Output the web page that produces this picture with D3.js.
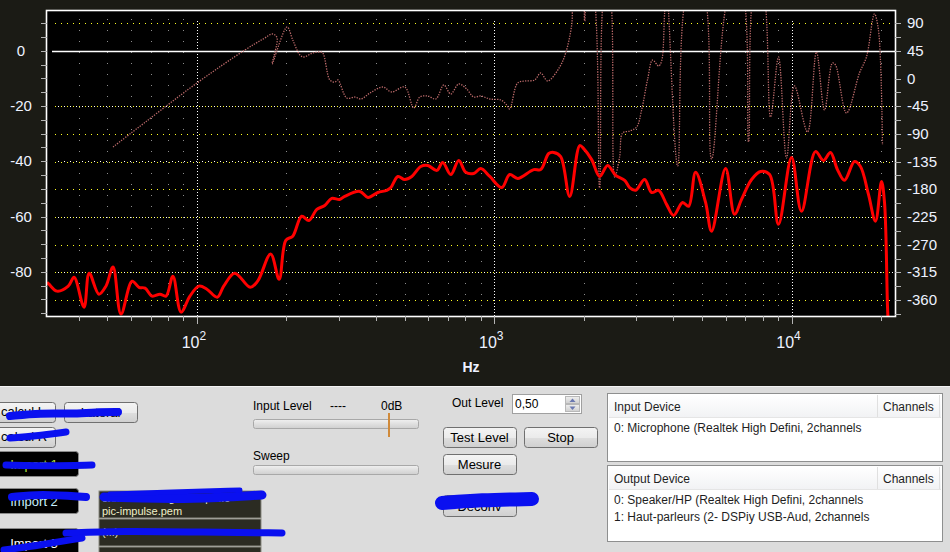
<!DOCTYPE html>
<html>
<head>
<meta charset="utf-8">
<script src="https://cdn.jsdelivr.net/npm/d3@7"></script>
<style>
body{margin:0;background:#1b1b15;}
svg{display:block;}
text{font-family:"Liberation Sans",Arial,sans-serif;}
</style>
</head>
<body>
<script>
// magnitude response (Hz, dB)
var magFreq = [31.3,31.8,33.8,36.9,38.6,41.7,43.4,46.8,49.4,52.2,55.5,60.5,63.8,66.9,70.6,75.1,78.7,83.0,88.4,94.7,
  101.6,108,117,123,134,151,160,177,189,199,210,225,238,253,269,284,302,314,353,376,406,435,449,474,500,528,566,598,641,671,
  714,760,802,853,901,966,1060,1127,1199,1358,1433,1525,1585,1673,1794,1939,1999,2127,2262,2407,2561,2746,2854,2989,3206,
  3383,3572,3799,4011,4301,4506,4757,5140,5384,6000,6433,6790,7340,7870,8440,9040,10000,10800,12040,12810,13520,14270,
  15070,16290,17060,18150,19160,20080,20550,21030,21190];
var magDb = [-83.8,-84.5,-87.0,-85.2,-82.0,-92.8,-80.5,-88.1,-85.2,-78.3,-95.3,-83.4,-85.6,-85.9,-88.8,-88.1,-88.8,-81.6,-94.6,-88.8,
  -85.2,-86.3,-89.2,-85.2,-80.5,-85.6,-83.4,-73.6,-82.7,-68.6,-67.1,-59.9,-61.4,-57.4,-56.0,-53.4,-53.8,-52.7,-50.9,-53.1,-51.3,-50.5,-49.5,-45.5,-46.6,-45.5,-41.9,-41.5,-43.3,-40.4,
  -44.8,-39.7,-44.0,-44.4,-42.6,-45.5,-49.5,-44.8,-46.2,-43.0,-43.0,-37.2,-36.8,-38.3,-52.7,-34.3,-35.4,-39.4,-45.5,-41.5,-45.1,-46.9,-49.5,-50.5,-46.6,
  -51.3,-50.5,-55.6,-59.6,-54.9,-56.3,-44.0,-54.9,-65.3,-42.6,-59.2,-53.8,-46.6,-43.7,-44.8,-62.8,-38.6,-58.1,-36.5,-39.7,-36.8,-43.0,
  -46.9,-40.1,-41.9,-52.0,-61.7,-47.3,-54.9,-92.4,-100.7];

// phase response (Hz, degrees)
var phaseFreq = [52.2,59.5,100,145,167,180,186,179,201,210,222,229,245,259,265,280,291,298,319,340,356,382,422,452,500,536,562,598,636,677,
  714,760,808,853,901,966,1052,1102,1127,1199,1276,1368,1433,1513,1660,1739,1822,1865,1969,2015,2062,2127,2262,2370,2426,2541,2641,2703,2854,3013,
  3132,3281,3410,3572,3656,3742,3799,4139,4541,4983,5384,6285,6740,7170,7570,7930,8500,9040,9620,10230,11320,12130,12910,13730,14060,15310,
  16930,17870,19010,19610,20230];
var phaseDeg = [-111.2,-90.0,-7.1,46.6,64.5,72.6,66.1,23.8,84.0,62.8,38.4,35.2,41.7,43.3,41.7,-2.2,-5.5,-2.2,-31.5,-29.9,-33.1,-23.4,-13.6,-21.7,-13.6,-47.7,-29.9,-28.2,-33.1,-10.3,
  -25.0,-8.7,-16.9,-29.9,-28.2,-33.1,-34.7,-42.9,-49.4,-7.1,-3.8,-2.2,9.2,-3.8,18.9,41.7,87.2,150,150,93.7,150,150,-177.9,150,150,-160,-127.4,-88.4,-85.2,-78.7,
  -51.0,-1.0,30.3,20.6,28.7,106.7,150,-142.1,150,150,-130.7,150,150,-103.0,150,150,-62.4,35.2,-129.1,-12.0,-86.8,43.3,-51.0,25.4,22.2,-55.9,
  9.2,35.2,105.1,79.1,-107.9];

var dbLabels = [0,-20,-40,-60,-80];
var phaseLabels = [90,45,0,-45,-90,-135,-180,-225,-270,-315,-360];
var decades = [100,1000,10000];
var decadeExp = ["2","3","4"];

var inputDevices = ["0: Microphone (Realtek High Defini, 2channels"];
var outputDevices = ["0: Speaker/HP (Realtek High Defini, 2channels","1: Haut-parleurs (2- DSPiy USB-Aud, 2channels"];

var width = 950, height = 552;
var svg = d3.select("body").append("svg").attr("width", width).attr("height", height);

var L = 47, T = 11, R = 895, B = 316;
var x = d3.scaleLog().domain([31.3, 22290]).range([L, R]);
var yDb = d3.scaleLinear().domain([-96, 14.4]).range([B, T]);
var yPh = d3.scaleLinear().domain([-386, 110]).range([B, T]);

svg.append("rect").attr("width", width).attr("height", 386).attr("fill", "#1b1b15");
svg.append("rect").attr("x", L).attr("y", T).attr("width", R - L).attr("height", B - T).attr("fill", "#000");

svg.append("clipPath").attr("id", "clip").append("rect")
  .attr("x", L).attr("y", T).attr("width", R - L).attr("height", B - T);

var grid = svg.append("g");
// vertical grid
var minors = x.ticks().filter(function(d){ return decades.indexOf(d) < 0; });
grid.selectAll(".vmin").data(minors).enter().append("line")
  .attr("x1", function(d){ return Math.round(x(d)) + 0.5; }).attr("x2", function(d){ return Math.round(x(d)) + 0.5; })
  .attr("y1", T + 8).attr("y2", B)
  .attr("stroke", "#8c8c8c").attr("stroke-dasharray", "1,10");
grid.selectAll(".vmaj").data(decades).enter().append("line")
  .attr("x1", function(d){ return Math.round(x(d)) + 0.5; }).attr("x2", function(d){ return Math.round(x(d)) + 0.5; })
  .attr("y1", T + 10).attr("y2", B)
  .attr("stroke", "#fff").attr("stroke-dasharray", "1,2");
// phase grid (yellow dotted)
grid.selectAll(".ph").data(phaseLabels.filter(function(d){ return d != 0 && d != 45; })).enter().append("line")
  .attr("x1", L + 8).attr("x2", R)
  .attr("y1", function(d){ return Math.round(yPh(d)) + 0.5; }).attr("y2", function(d){ return Math.round(yPh(d)) + 0.5; })
  .attr("stroke", "#ffff20").attr("stroke-dasharray", "1,5");
// dB grid
grid.selectAll(".db").data(dbLabels.filter(function(d){ return d != 0; })).enter().append("line")
  .attr("x1", L + 8).attr("x2", R)
  .attr("y1", function(d){ return Math.round(yDb(d)) + 0.5; }).attr("y2", function(d){ return Math.round(yDb(d)) + 0.5; })
  .attr("stroke", "#ffffff").attr("stroke-dasharray", "1,5").attr("stroke-dashoffset", 3);
grid.append("line").attr("x1", L + 5).attr("x2", R)
  .attr("y1", Math.round(yDb(0)) + 0.5).attr("y2", Math.round(yDb(0)) + 0.5)
  .attr("stroke", "#fff").attr("stroke-width", 1.5);

var curves = svg.append("g").attr("clip-path", "url(#clip)");
var phaseLine = d3.line().x(function(d){ return x(d[0]); }).y(function(d){ return yPh(d[1]); })
  .curve(d3.curveCatmullRom.alpha(0.5));
curves.append("path").datum(d3.zip(phaseFreq, phaseDeg)).attr("d", phaseLine)
  .attr("fill", "none").attr("stroke", "#bc6a6a").attr("stroke-width", 1.3).attr("stroke-dasharray", "1.3,1.3");
var magLine = d3.line().x(function(d){ return x(d[0]); }).y(function(d){ return yDb(d[1]); })
  .curve(d3.curveCatmullRom.alpha(0.5));
curves.append("path").datum(d3.zip(magFreq, magDb)).attr("d", magLine)
  .attr("fill", "none").attr("stroke", "#ff0000").attr("stroke-width", 3).attr("stroke-linejoin", "round");

// frame
svg.append("rect").attr("x", L - 0.5).attr("y", T - 0.5).attr("width", R - L + 1).attr("height", B - T + 1)
  .attr("fill", "none").attr("stroke", "#fff").attr("stroke-width", 1.6);

// axis ticks
var ax = svg.append("g").attr("stroke", "#b4b4b4");
ax.selectAll(".lt").data(d3.range(-95, 15, 5)).enter().append("line")
  .attr("x1", L - 6).attr("x2", L)
  .attr("y1", function(d){ return Math.round(yDb(d)) + 0.5; }).attr("y2", function(d){ return Math.round(yDb(d)) + 0.5; });
ax.selectAll(".rt").data(d3.range(-382.5, 110, 22.5)).enter().append("line")
  .attr("x1", R).attr("x2", R + 6)
  .attr("y1", function(d){ return Math.round(yPh(d)) + 0.5; }).attr("y2", function(d){ return Math.round(yPh(d)) + 0.5; });
ax.selectAll(".bt").data(x.ticks()).enter().append("line")
  .attr("x1", function(d){ return Math.round(x(d)) + 0.5; }).attr("x2", function(d){ return Math.round(x(d)) + 0.5; })
  .attr("y1", B).attr("y2", function(d){ return decades.indexOf(d) >= 0 ? B + 8 : B + 5; });

var lab = "#eef2ff";
svg.selectAll(".dbl").data(dbLabels).enter().append("text")
  .attr("x", 21).attr("y", function(d){ return yDb(d) + 5; })
  .attr("text-anchor", "middle").attr("font-size", 15).attr("fill", lab)
  .text(function(d){ return d; });
svg.selectAll(".phl").data(phaseLabels).enter().append("text")
  .attr("x", 907).attr("y", function(d){ return yPh(d) + 5; })
  .attr("font-size", 15).attr("fill", lab)
  .text(function(d){ return d; });
var xl = svg.selectAll(".xl").data(decades).enter().append("text")
  .attr("x", function(d){ return x(d) - 3; }).attr("y", 348)
  .attr("text-anchor", "middle").attr("font-size", 16).attr("fill", lab);
xl.append("tspan").text("10");
xl.append("tspan").attr("font-size", 12).attr("dy", -8).text(function(d, i){ return decadeExp[i]; });
svg.append("text").attr("x", 471).attr("y", 372).attr("text-anchor", "middle")
  .attr("font-size", 14).attr("font-weight", "bold").attr("fill", lab).text("Hz");

// control panel
var p = svg.append("g");
p.append("rect").attr("y", 386).attr("width", width).attr("height", height - 386).attr("fill", "#dcdcdc");
p.append("line").attr("x1", 0).attr("x2", width).attr("y1", 386.5).attr("y2", 386.5).attr("stroke", "#f4f4f4");

var defs = svg.append("defs");
var g1 = defs.append("linearGradient").attr("id", "btn").attr("x1", 0).attr("x2", 0).attr("y1", 0).attr("y2", 1);
g1.append("stop").attr("offset", "0%").attr("stop-color", "#f4f4f4");
g1.append("stop").attr("offset", "50%").attr("stop-color", "#ebebeb");
g1.append("stop").attr("offset", "55%").attr("stop-color", "#dddddd");
g1.append("stop").attr("offset", "100%").attr("stop-color", "#cfcfcf");
var g2 = defs.append("linearGradient").attr("id", "bar").attr("x1", 0).attr("x2", 0).attr("y1", 0).attr("y2", 1);
g2.append("stop").attr("offset", "0%").attr("stop-color", "#f0f0f0");
g2.append("stop").attr("offset", "100%").attr("stop-color", "#cfcfcf");
var g3 = defs.append("linearGradient").attr("id", "hdr").attr("x1", 0).attr("x2", 0).attr("y1", 0).attr("y2", 1);
g3.append("stop").attr("offset", "0%").attr("stop-color", "#ffffff");
g3.append("stop").attr("offset", "100%").attr("stop-color", "#f1f2f4");

function button(x0, y0, w, h, label, dark, col) {
  p.append("rect").attr("x", x0 + 0.5).attr("y", y0 + 0.5).attr("width", w).attr("height", h).attr("rx", 3)
    .attr("fill", dark ? "#000" : "url(#btn)").attr("stroke", dark ? "#8a8a8a" : "#707070");
  if (label) p.append("text").attr("x", x0 + w / 2).attr("y", y0 + h / 2 + 5).attr("text-anchor", "middle")
    .attr("font-size", 13).attr("fill", col || "#000").text(label);
}
button(-10, 402, 65, 20, null);
p.append("text").attr("x", 1).attr("y", 416).attr("font-size", 13).text("calcul L");
button(64, 402, 73, 20, "Lateral");
button(-10, 427, 65, 20, null);
p.append("text").attr("x", 1).attr("y", 441).attr("font-size", 13).text("calcul R");
button(-10, 451, 88, 25, "Import 1", true, "#b4e03c");
button(-10, 488, 88, 25, "Import 2", true, "#c8f0ff");
button(-10, 528, 88, 30, "Import 3", true, "#ffffff");

p.append("rect").attr("x", 99).attr("y", 491).attr("width", 162).attr("height", 27).attr("fill", "#2b2b22").attr("stroke", "#8a8a80");
p.append("text").attr("x", 102).attr("y", 502).attr("font-size", 11).attr("fill", "#f0f0c8").text("c:\\...\\DSPdesigner\\dsp-2.0");
p.append("text").attr("x", 102).attr("y", 515).attr("font-size", 11).attr("fill", "#f0f0c8").text("pic-impulse.pem");
p.append("rect").attr("x", 99).attr("y", 519).attr("width", 162).attr("height", 27).attr("fill", "#2b2b22").attr("stroke", "#8a8a80");
p.append("text").attr("x", 102).attr("y", 536).attr("font-size", 11).attr("fill", "#f0f0c8").text("(...)");
p.append("rect").attr("x", 99).attr("y", 547).attr("width", 162).attr("height", 10).attr("fill", "#2b2b22").attr("stroke", "#8a8a80");

p.append("text").attr("x", 253).attr("y", 410).attr("font-size", 12).text("Input Level");
p.append("text").attr("x", 330).attr("y", 410).attr("font-size", 12).text("----");
p.append("text").attr("x", 381).attr("y", 410).attr("font-size", 12).text("0dB");
p.append("rect").attr("x", 253.5).attr("y", 419.5).attr("width", 165).attr("height", 9).attr("rx", 2)
  .attr("fill", "url(#bar)").attr("stroke", "#a8a8a8");
p.append("line").attr("x1", 389).attr("x2", 389).attr("y1", 413).attr("y2", 437).attr("stroke", "#d08a3a").attr("stroke-width", 2);
p.append("text").attr("x", 253).attr("y", 460).attr("font-size", 12).text("Sweep");
p.append("rect").attr("x", 253.5).attr("y", 465.5).attr("width", 165).attr("height", 9).attr("rx", 2)
  .attr("fill", "url(#bar)").attr("stroke", "#a8a8a8");

p.append("text").attr("x", 452).attr("y", 407).attr("font-size", 12).text("Out Level");
p.append("rect").attr("x", 512.5).attr("y", 394.5).attr("width", 69).attr("height", 19).attr("fill", "#fff").attr("stroke", "#a0a0a0");
p.append("text").attr("x", 515).attr("y", 408).attr("font-size", 12).text("0,50");
p.append("rect").attr("x", 565.5).attr("y", 396.5).attr("width", 14).attr("height", 7).attr("fill", "url(#bar)").attr("stroke", "#b8b8b8");
p.append("rect").attr("x", 565.5).attr("y", 404.5).attr("width", 14).attr("height", 7).attr("fill", "url(#bar)").attr("stroke", "#b8b8b8");
p.append("path").attr("d", "M569.5,402 L572.5,398.5 L575.5,402 Z").attr("fill", "#6a78b0");
p.append("path").attr("d", "M569.5,406.5 L572.5,410 L575.5,406.5 Z").attr("fill", "#6a78b0");

button(443, 427, 73, 20, "Test Level");
button(524, 427, 73, 20, "Stop");
button(443, 454, 73, 20, "Mesure");
button(443, 495, 73, 21, "Deconv");

function listView(y0, h, title, items) {
  p.append("rect").attr("x", 607.5).attr("y", y0 + 0.5).attr("width", 335).attr("height", h).attr("fill", "#fff").attr("stroke", "#8e8f8f");
  p.append("rect").attr("x", 609).attr("y", y0 + 2).attr("width", 332).attr("height", 23).attr("fill", "url(#hdr)");
  p.append("line").attr("x1", 609).attr("x2", 941).attr("y1", y0 + 24.5).attr("y2", y0 + 24.5).attr("stroke", "#e5e5e5");
  p.append("line").attr("x1", 877.5).attr("x2", 877.5).attr("y1", y0 + 2).attr("y2", y0 + 24).attr("stroke", "#e0e0e0");
  p.append("line").attr("x1", 939.5).attr("x2", 939.5).attr("y1", y0 + 2).attr("y2", y0 + 24).attr("stroke", "#e0e0e0");
  p.append("text").attr("x", 614).attr("y", y0 + 18).attr("font-size", 12).attr("fill", "#1e1e1e").text(title);
  p.append("text").attr("x", 883).attr("y", y0 + 18).attr("font-size", 12).attr("fill", "#1e1e1e").text("Channels");
  p.selectAll(null).data(items).enter().append("text")
    .attr("x", 614).attr("y", function(d, i){ return y0 + 39 + i * 17; })
    .attr("font-size", 12).attr("fill", "#1e1e1e").text(function(d){ return d; });
}
listView(393, 68, "Input Device", inputDevices);
listView(465, 76, "Output Device", outputDevices);

// blue redaction strokes
var scr = svg.append("g").attr("fill", "none").attr("stroke", "#0a10f0").attr("stroke-linecap", "round")
  .attr("stroke-linejoin", "round");
var sl = d3.line().curve(d3.curveBasis);
scr.append("path").attr("stroke-width", 8).attr("d", sl([[10,416],[40,413],[75,414],[100,412],[118,412]]));
scr.append("path").attr("stroke-width", 7).attr("d", sl([[10,438],[35,436],[66,432]]));
scr.append("path").attr("stroke-width", 7).attr("d", sl([[6,465],[50,466],[92,465]]));
scr.append("path").attr("stroke-width", 8).attr("d", sl([[12,497],[40,494],[86,497]]));
scr.append("path").attr("stroke-width", 9).attr("d", sl([[104,497],[140,498],[190,499],[262,495]]));
scr.append("path").attr("stroke-width", 5).attr("d", sl([[110,494],[170,492],[240,490]]));
scr.append("path").attr("stroke-width", 7).attr("d", sl([[66,533],[120,531],[200,532],[282,533]]));
scr.append("path").attr("stroke-width", 7).attr("d", sl([[4,550],[40,545],[82,538]]));
scr.append("path").attr("stroke-width", 14).attr("d", sl([[442,503],[480,500],[532,499]]));
</script>
</body>
</html>
